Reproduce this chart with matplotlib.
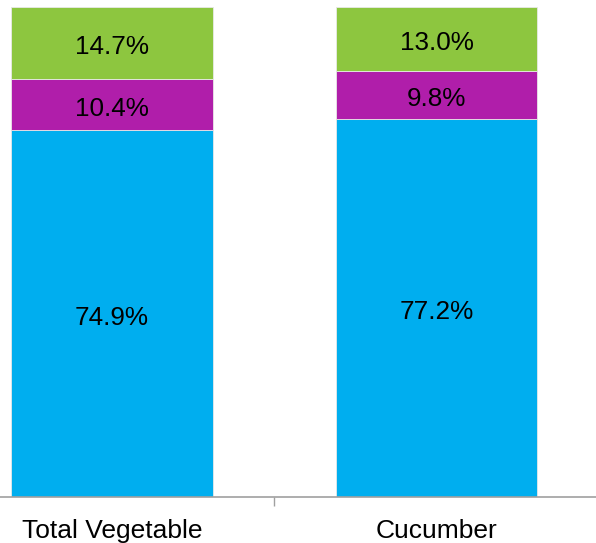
import matplotlib.pyplot as plt

plt.rcParams['font.family'] = ['Liberation Sans', 'DejaVu Sans']

# share of each segment per category (percent)
categories = ['Total Vegetable', 'Cucumber']
bottom_share = [74.9, 77.2]
middle_share = [10.4, 9.8]
top_share = [14.7, 13.0]

colors = ['#00AEEF', '#B01EAA', '#8DC63F']

fig = plt.figure(figsize=(5.96, 5.43), dpi=100)
ax = fig.add_axes([0, 46 / 543, 1, 490 / 543])

x = list(range(len(categories)))
base = [0] * len(categories)
for values, color in zip([bottom_share, middle_share, top_share], colors):
    ax.bar(x, values, width=0.622, bottom=base, color=color,
           edgecolor='#e8e8e8', linewidth=0.6)
    for xi, b, v in zip(x, base, values):
        ax.annotate(f'{v:.1f}%', (xi, b + v / 2), xytext=(0, -3),
                    textcoords='offset points', ha='center', va='center',
                    fontsize=18.8, color='black')
    base = [b + v for b, v in zip(base, values)]

ax.set_xlim(-0.345, 1.4915)
ax.set_ylim(0, 100)

for side in ['top', 'right', 'left']:
    ax.spines[side].set_visible(False)
ax.spines['bottom'].set_color('#a0a0a0')
ax.spines['bottom'].set_linewidth(1.2)

ax.set_yticks([])
ax.set_xticks(x)
ax.set_xticklabels(categories, fontsize=19)
ax.tick_params(axis='x', which='major', length=0, pad=16)
ax.set_xticks([0.5], minor=True)
ax.tick_params(axis='x', which='minor', length=6.5, width=1, color='#a0a0a0')

fig.savefig('out.png', dpi=100)
